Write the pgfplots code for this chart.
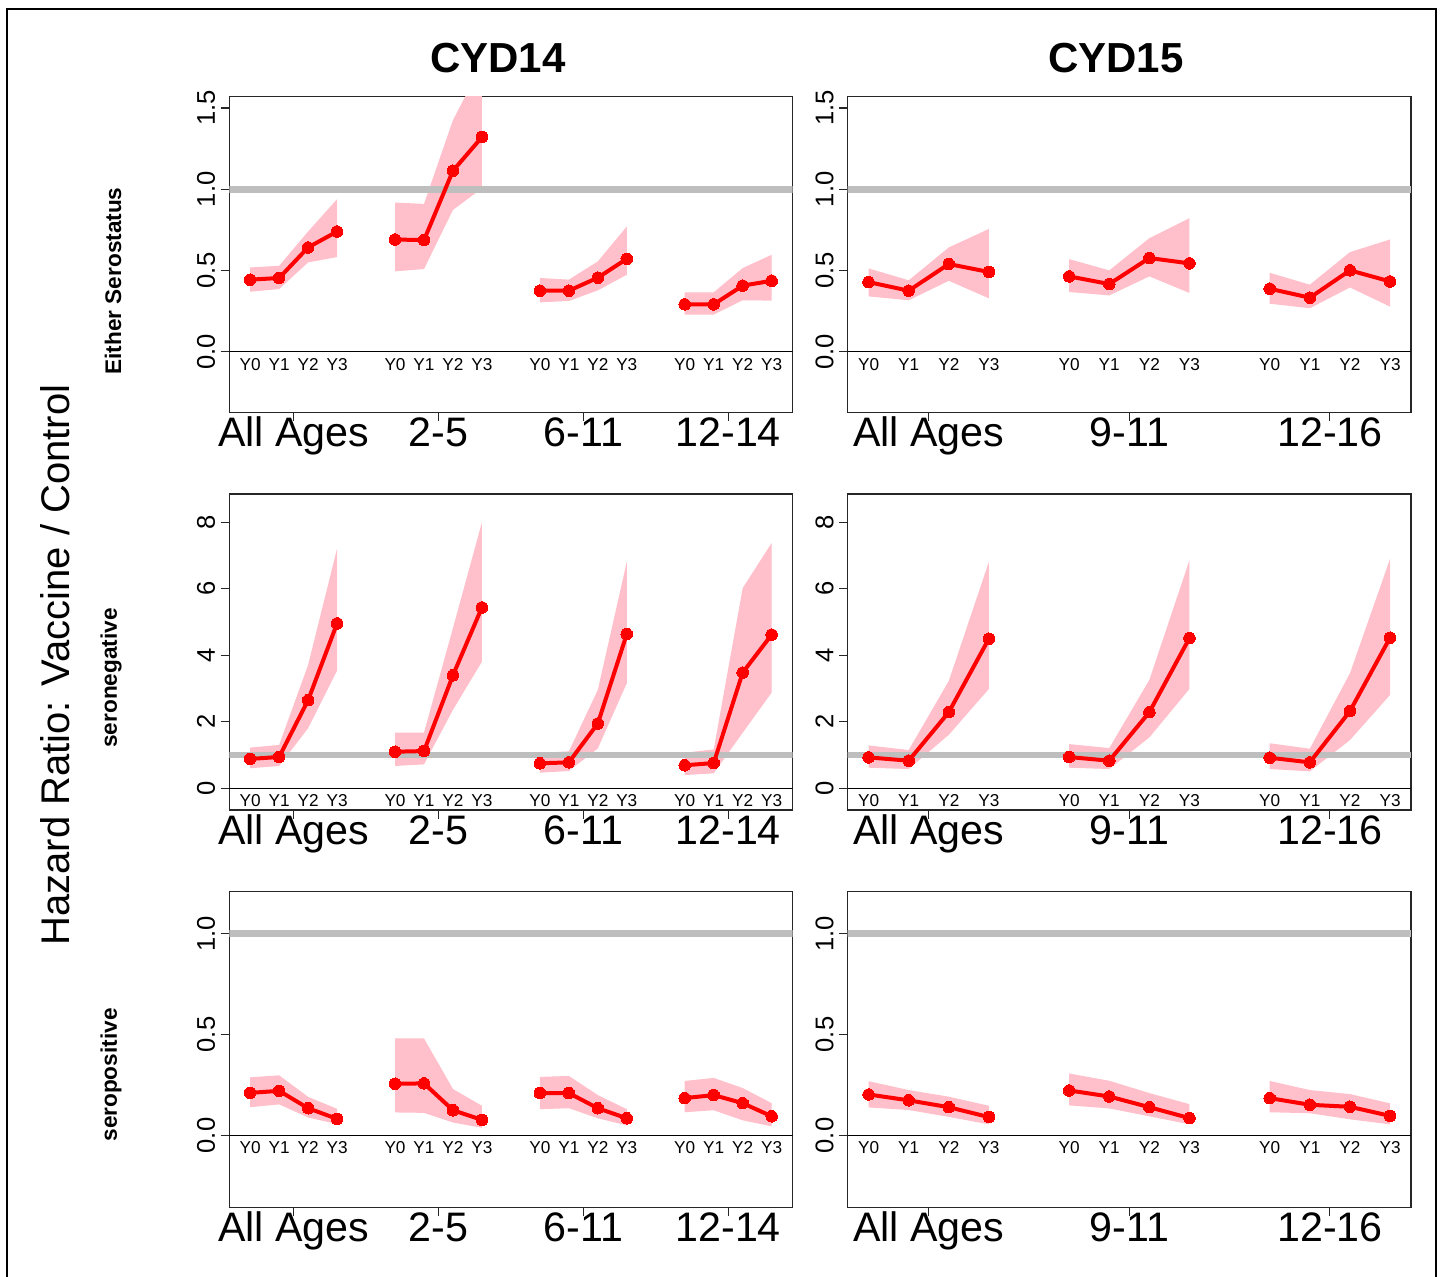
\documentclass[border=0pt]{standalone}
\usepackage{pgfplots}
\pgfplotsset{compat=1.18}
\usepackage{fontspec}
\setmainfont{Liberation Sans}
\definecolor{rpink}{HTML}{FFC0CB}
\definecolor{rred}{HTML}{FF0000}
\definecolor{rgray}{HTML}{BEBEBE}
\pgfplotsset{
  panel/.style={scale only axis, width=281.6pt, height=158pt, clip=true,
    axis line style={black!85, line width=0.6pt},
    tick style={black!85, line width=0.6pt},
    tick align=outside, major tick length=4.3pt,
    xtick pos=left, ytick pos=left,
    xticklabel style={yshift=-12.8pt, font=\fontsize{20.6}{24}\selectfont, anchor=base, inner sep=0pt},
    yticklabel style={xshift=-2.9pt, rotate=90, font=\fontsize{12.8}{15}\selectfont, anchor=base, inner sep=0pt},
    anchor=south west},
  rib/.style={fill=rpink, draw=none, forget plot},
  ser/.style={rred, line width=2pt, mark=*, mark size=2.9pt, mark options={fill=rred, draw=rred, line width=0pt}, forget plot},
  refl/.style={rgray, line width=3.3pt, forget plot},
  zerol/.style={black, line width=0.6pt, forget plot},
}
\tikzset{ylab/.style={anchor=base, yshift=-9.2pt, font=\fontsize{8.6}{10}\selectfont, inner sep=0pt}}
\newcommand{\ylabsL}{\pgfplotsinvokeforeach{1,2,3,4,6,7,8,9,11,12,13,14,16,17,18,19}{\node[ylab] at (axis cs:##1,0) {Y\pgfmathparse{int(mod(##1-1,5))}\pgfmathresult};}}
\newcommand{\ylabsR}{\pgfplotsinvokeforeach{1,2,3,4,6,7,8,9,11,12,13,14}{\node[ylab] at (axis cs:##1,0) {Y\pgfmathparse{int(mod(##1-1,5))}\pgfmathresult};}}
\begin{document}
\begin{tikzpicture}
\useasboundingbox (0,0) rectangle (722.5pt,638.5pt);
\fill[white] (0,0) rectangle (722.5pt,638.5pt);
\draw[black, line width=0.75pt] (3.5pt,0) -- (3.5pt,634pt) -- (718pt,634pt) -- (718pt,0);
% titles
\node[font=\fontsize{21}{25}\selectfont\bfseries] at (249pt,609.5pt) {CYD14};
\node[font=\fontsize{21}{25}\selectfont\bfseries] at (558pt,609.5pt) {CYD15};
\node[font=\fontsize{20}{24}\selectfont, rotate=90] at (27.5pt,306pt) {Hazard Ratio: Vaccine / Control};
\node[font=\fontsize{11.3}{13}\selectfont\bfseries, rotate=90] at (56.5pt,498pt) {Either Serostatus};
\node[font=\fontsize{11.3}{13}\selectfont\bfseries, rotate=90] at (55.5pt,299.5pt) {seronegative};
\node[font=\fontsize{11.3}{13}\selectfont\bfseries, rotate=90] at (55.5pt,101pt) {seropositive};

% ===== Row 1 left: CYD14 Either Serostatus
\begin{axis}[panel, at={(114.65pt,432.35pt)}, xmin=0.28, xmax=19.72, ymin=-0.372, ymax=1.572,
  ytick={0,0.5,1,1.5}, yticklabels={0.0,0.5,1.0,1.5},
  xtick={2.5,7.5,12.5,17.5}, xticklabels={All Ages,2-5,6-11,12-14}]
\addplot[rib] coordinates {(1,0.519) (2,0.529) (3,0.740) (4,0.939) (4,0.583) (3,0.550) (2,0.386) (1,0.370)} -- cycle;
\addplot[rib] coordinates {(6,0.918) (7,0.910) (8,1.425) (9,1.77) (9,1.006) (8,0.873) (7,0.509) (6,0.495)} -- cycle;
\addplot[rib] coordinates {(11,0.454) (12,0.444) (13,0.556) (14,0.771) (14,0.474) (13,0.378) (12,0.313) (11,0.304)} -- cycle;
\addplot[rib] coordinates {(16,0.366) (17,0.366) (18,0.515) (19,0.597) (19,0.315) (18,0.317) (17,0.229) (16,0.229)} -- cycle;
\addplot[refl] coordinates {(-5,1) (30,1)};
\addplot[zerol] coordinates {(-5,0) (30,0)};
\addplot[ser] coordinates {(1,0.444) (2,0.454) (3,0.642) (4,0.740)};
\addplot[ser] coordinates {(6,0.691) (7,0.687) (8,1.114) (9,1.321)};
\addplot[ser] coordinates {(11,0.376) (12,0.376) (13,0.456) (14,0.572)};
\addplot[ser] coordinates {(16,0.292) (17,0.292) (18,0.407) (19,0.437)};
\ylabsL
\end{axis}

% ===== Row 1 right: CYD15 Either Serostatus
\begin{axis}[panel, at={(423.85pt,432.35pt)}, xmin=0.48, xmax=14.52, ymin=-0.372, ymax=1.572,
  ytick={0,0.5,1,1.5}, yticklabels={0.0,0.5,1.0,1.5},
  xtick={2.5,7.5,12.5}, xticklabels={All Ages,9-11,12-16}]
\addplot[rib] coordinates {(1,0.513) (2,0.440) (3,0.642) (4,0.756) (4,0.329) (3,0.437) (2,0.317) (1,0.341)} -- cycle;
\addplot[rib] coordinates {(6,0.570) (7,0.501) (8,0.699) (9,0.822) (9,0.362) (8,0.464) (7,0.347) (6,0.368)} -- cycle;
\addplot[rib] coordinates {(11,0.486) (12,0.413) (13,0.613) (14,0.691) (14,0.278) (13,0.396) (12,0.268) (11,0.296)} -- cycle;
\addplot[refl] coordinates {(-5,1) (30,1)};
\addplot[zerol] coordinates {(-5,0) (30,0)};
\addplot[ser] coordinates {(1,0.429) (2,0.376) (3,0.540) (4,0.491)};
\addplot[ser] coordinates {(6,0.464) (7,0.417) (8,0.577) (9,0.544)};
\addplot[ser] coordinates {(11,0.388) (12,0.333) (13,0.501) (14,0.433)};
\ylabsR
\end{axis}

% ===== Row 2 left: CYD14 seronegative
\begin{axis}[panel, at={(114.65pt,233.5pt)}, xmin=0.28, xmax=19.72, ymin=-0.652, ymax=8.852,
  ytick={0,2,4,6,8}, yticklabels={0,2,4,6,8},
  xtick={2.5,7.5,12.5,17.5}, xticklabels={All Ages,2-5,6-11,12-14}]
\addplot[rib] coordinates {(1,1.224) (2,1.304) (3,3.71) (4,7.21) (4,3.54) (3,1.807) (2,0.672) (1,0.602)} -- cycle;
\addplot[rib] coordinates {(6,1.675) (7,1.675) (8,4.82) (9,8.0) (9,3.81) (8,2.36) (7,0.72) (6,0.672)} -- cycle;
\addplot[rib] coordinates {(11,1.07) (12,1.11) (13,2.96) (14,6.81) (14,3.16) (13,1.20) (12,0.52) (11,0.47)} -- cycle;
\addplot[rib] coordinates {(16,1.07) (17,1.17) (18,6.02) (19,7.38) (19,2.88) (18,1.67) (17,0.45) (16,0.40)} -- cycle;
\addplot[refl] coordinates {(-5,1) (30,1)};
\addplot[zerol] coordinates {(-5,0) (30,0)};
\addplot[ser] coordinates {(1,0.883) (2,0.943) (3,2.65) (4,4.96)};
\addplot[ser] coordinates {(6,1.10) (7,1.12) (8,3.40) (9,5.44)};
\addplot[ser] coordinates {(11,0.752) (12,0.78) (13,1.95) (14,4.64)};
\addplot[ser] coordinates {(16,0.692) (17,0.76) (18,3.48) (19,4.62)};
\ylabsL
\end{axis}

% ===== Row 2 right: CYD15 seronegative
\begin{axis}[panel, at={(423.85pt,233.5pt)}, xmin=0.48, xmax=14.52, ymin=-0.652, ymax=8.852,
  ytick={0,2,4,6,8}, yticklabels={0,2,4,6,8},
  xtick={2.5,7.5,12.5}, xticklabels={All Ages,9-11,12-16}]
\addplot[rib] coordinates {(1,1.29) (2,1.15) (3,3.23) (4,6.81) (4,2.99) (3,1.61) (2,0.58) (1,0.62)} -- cycle;
\addplot[rib] coordinates {(6,1.33) (7,1.21) (8,3.26) (9,6.86) (9,2.99) (8,1.53) (7,0.58) (6,0.62)} -- cycle;
\addplot[rib] coordinates {(11,1.355) (12,1.19) (13,3.46) (14,6.90) (14,2.81) (13,1.45) (12,0.51) (11,0.58)} -- cycle;
\addplot[refl] coordinates {(-5,1) (30,1)};
\addplot[zerol] coordinates {(-5,0) (30,0)};
\addplot[ser] coordinates {(1,0.93) (2,0.83) (3,2.29) (4,4.50)};
\addplot[ser] coordinates {(6,0.94) (7,0.83) (8,2.29) (9,4.52)};
\addplot[ser] coordinates {(11,0.92) (12,0.78) (13,2.32) (14,4.53)};
\ylabsR
\end{axis}

% ===== Row 3 left: CYD14 seropositive
\begin{axis}[panel, at={(114.65pt,34.65pt)}, xmin=0.28, xmax=19.72, ymin=-0.358, ymax=1.208,
  ytick={0,0.5,1}, yticklabels={0.0,0.5,1.0},
  xtick={2.5,7.5,12.5,17.5}, xticklabels={All Ages,2-5,6-11,12-14}]
\addplot[rib] coordinates {(1,0.288) (2,0.298) (3,0.191) (4,0.132) (4,0.056) (3,0.089) (2,0.154) (1,0.140)} -- cycle;
\addplot[rib] coordinates {(6,0.481) (7,0.481) (8,0.230) (9,0.147) (9,0.038) (8,0.064) (7,0.112) (6,0.114)} -- cycle;
\addplot[rib] coordinates {(11,0.29) (12,0.295) (13,0.20) (14,0.13) (14,0.05) (13,0.085) (12,0.135) (11,0.13)} -- cycle;
\addplot[rib] coordinates {(16,0.27) (17,0.285) (18,0.235) (19,0.16) (19,0.045) (18,0.075) (17,0.125) (16,0.115)} -- cycle;
\addplot[refl] coordinates {(-5,1) (30,1)};
\addplot[zerol] coordinates {(-5,0) (30,0)};
\addplot[ser] coordinates {(1,0.211) (2,0.221) (3,0.135) (4,0.082)};
\addplot[ser] coordinates {(6,0.256) (7,0.258) (8,0.125) (9,0.077)};
\addplot[ser] coordinates {(11,0.21) (12,0.21) (13,0.135) (14,0.085)};
\addplot[ser] coordinates {(16,0.185) (17,0.20) (18,0.16) (19,0.095)};
\ylabsL
\end{axis}

% ===== Row 3 right: CYD15 seropositive
\begin{axis}[panel, at={(423.85pt,34.65pt)}, xmin=0.48, xmax=14.52, ymin=-0.358, ymax=1.208,
  ytick={0,0.5,1}, yticklabels={0.0,0.5,1.0},
  xtick={2.5,7.5,12.5}, xticklabels={All Ages,9-11,12-16}]
\addplot[rib] coordinates {(1,0.269) (2,0.225) (3,0.192) (4,0.147) (4,0.055) (3,0.092) (2,0.126) (1,0.139)} -- cycle;
\addplot[rib] coordinates {(6,0.307) (7,0.271) (8,0.21) (9,0.155) (9,0.055) (8,0.095) (7,0.134) (6,0.149)} -- cycle;
\addplot[rib] coordinates {(11,0.27) (12,0.225) (13,0.205) (14,0.159) (14,0.055) (13,0.08) (12,0.11) (11,0.115)} -- cycle;
\addplot[refl] coordinates {(-5,1) (30,1)};
\addplot[zerol] coordinates {(-5,0) (30,0)};
\addplot[ser] coordinates {(1,0.203) (2,0.174) (3,0.140) (4,0.091)};
\addplot[ser] coordinates {(6,0.223) (7,0.193) (8,0.14) (9,0.086)};
\addplot[ser] coordinates {(11,0.185) (12,0.152) (13,0.142) (14,0.097)};
\ylabsR
\end{axis}
\end{tikzpicture}
\end{document}
